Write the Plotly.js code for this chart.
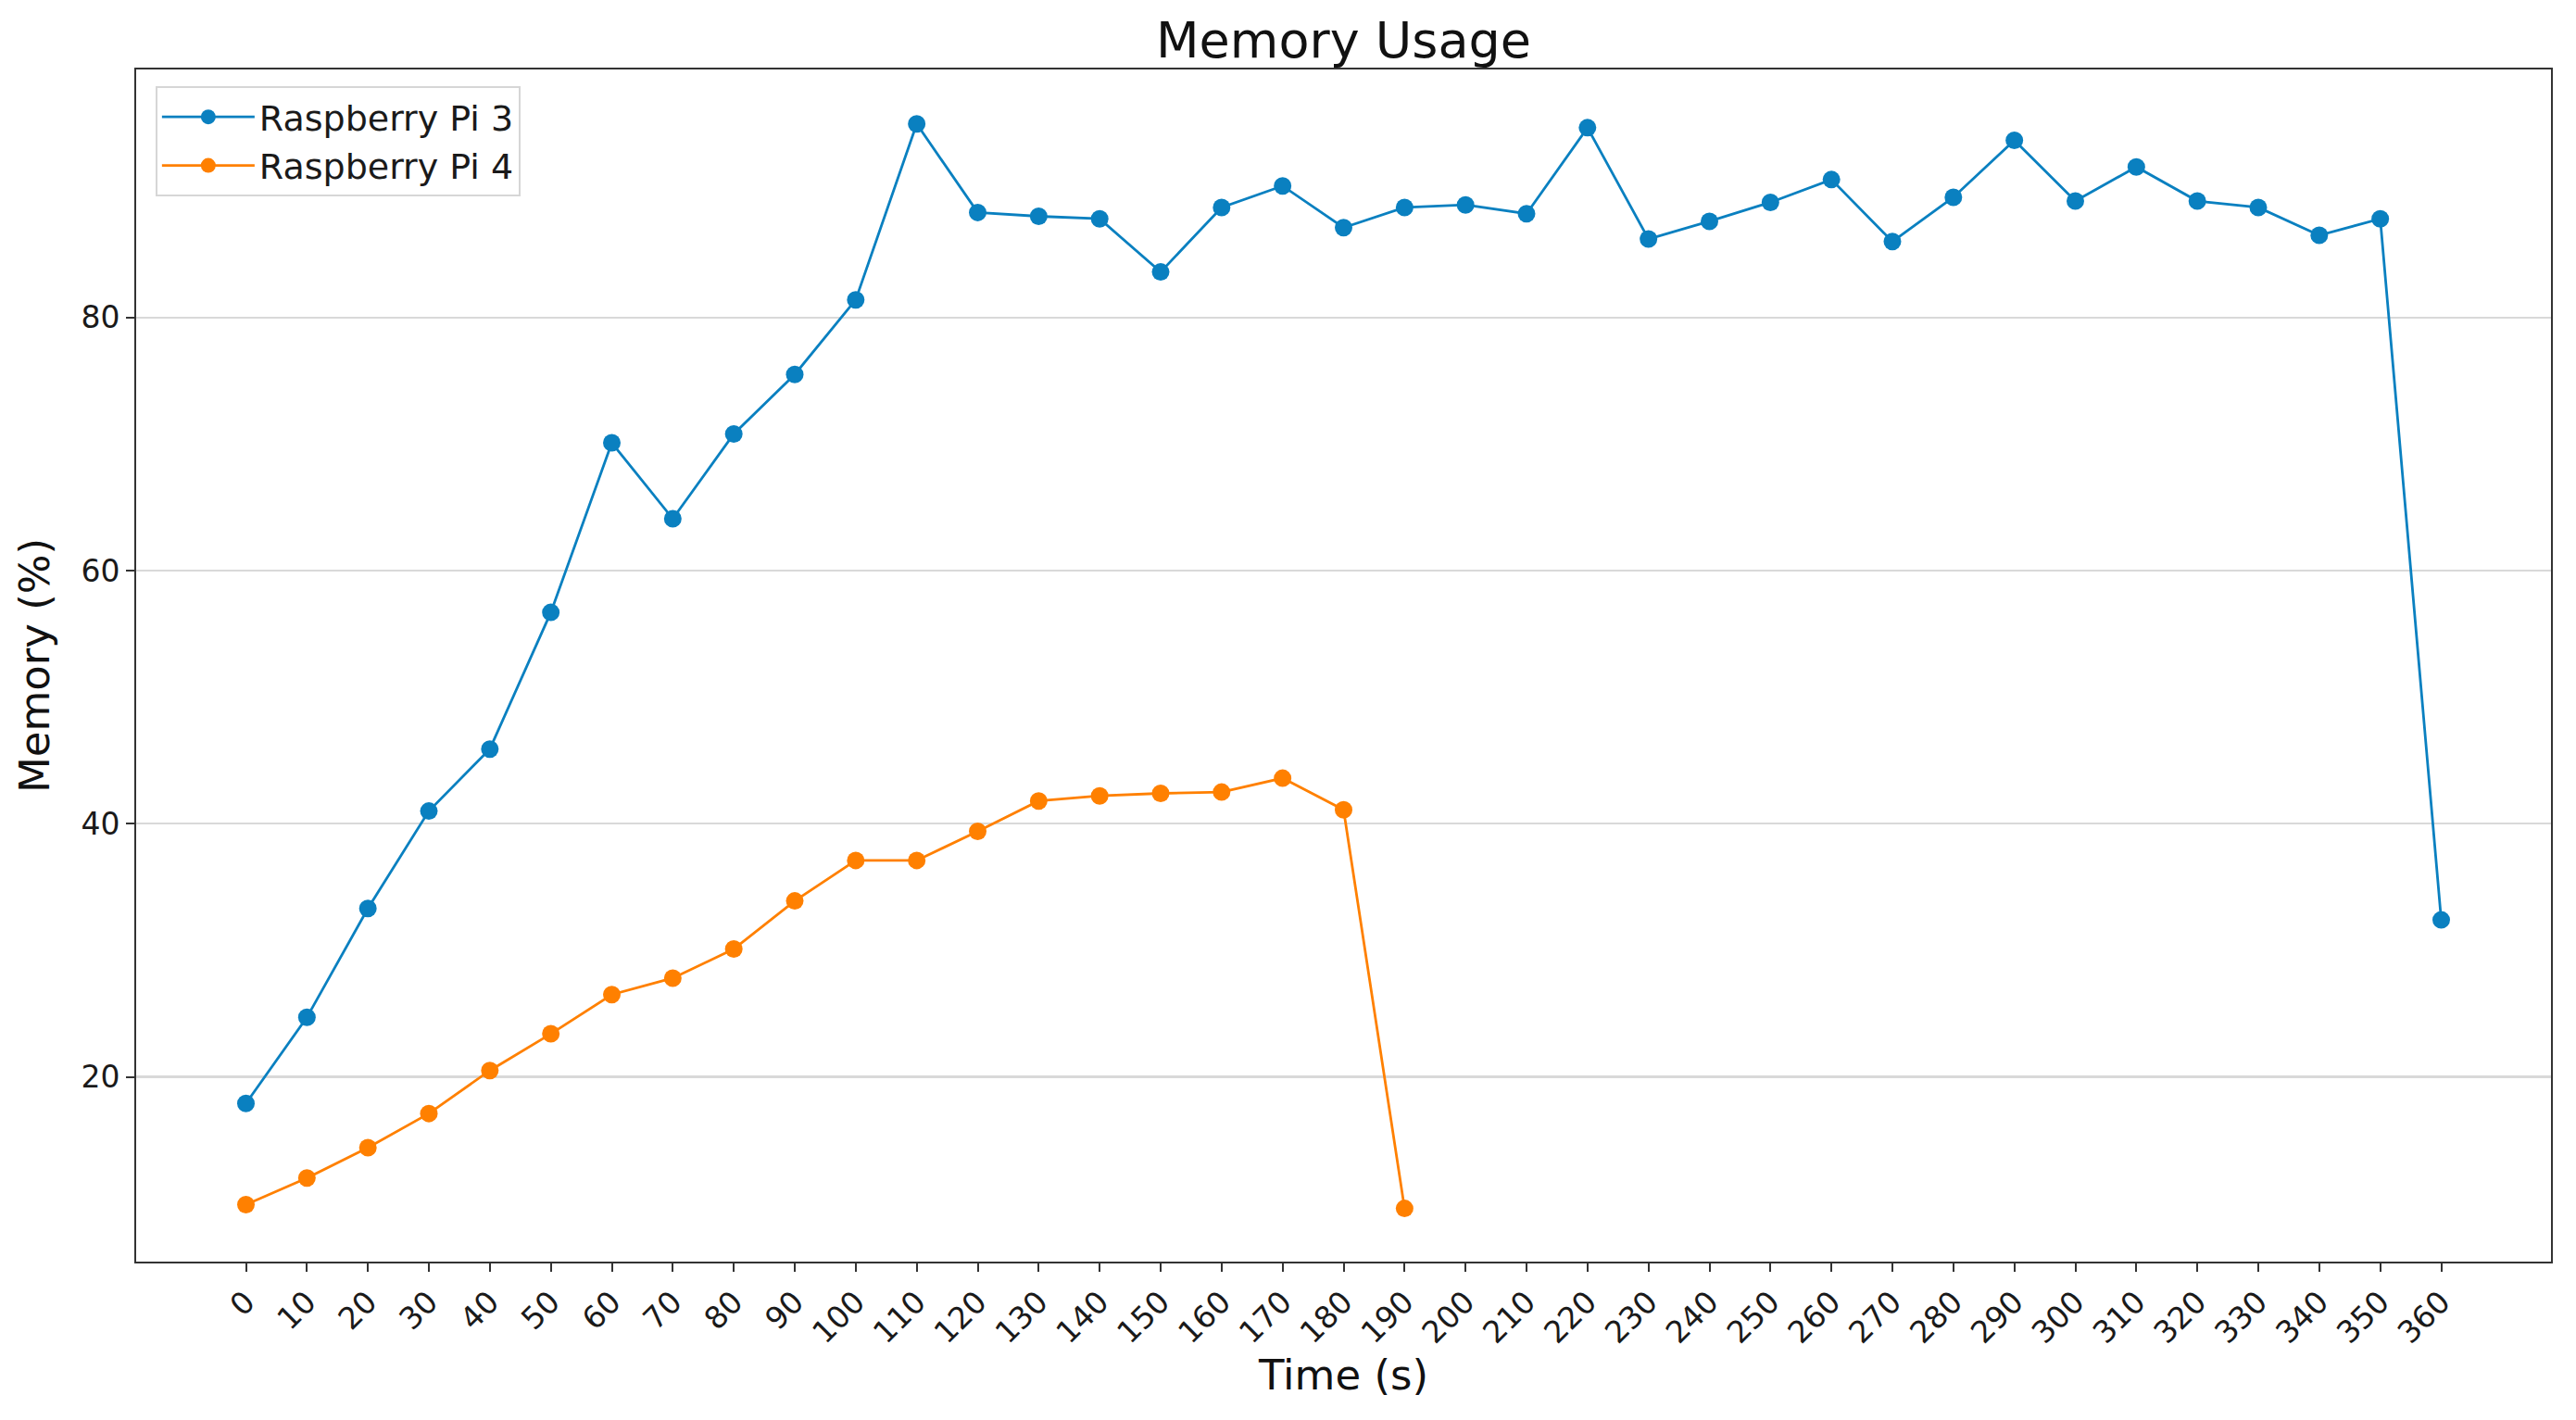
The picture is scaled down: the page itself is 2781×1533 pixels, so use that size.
<!DOCTYPE html>
<html>
<head>
<meta charset="utf-8">
<script src="https://cdn.plot.ly/plotly-3.0.1.min.js"></script>
<style>
html, body { margin: 0; padding: 0; background: #ffffff; }
#chart { width: 2781px; height: 1533px; }
</style>
</head>
<body>
<div id="chart"></div>
<script>
// Time (s)
const timePi3 = [0,10,20,30,40,50,60,70,80,90,100,110,120,130,140,150,160,170,180,190,200,210,220,230,240,250,260,270,280,290,300,310,320,330,340,350,360];
const memPi3 = [17.9,24.7,33.3,41.0,45.9,56.7,70.1,64.1,70.8,75.5,81.4,95.3,88.3,88.0,87.8,83.6,88.7,90.4,87.1,88.7,88.9,88.2,95.0,86.2,87.6,89.1,90.9,86.0,89.5,94.0,89.2,91.9,89.2,88.7,86.5,87.8,32.4];

const timePi4 = [0,10,20,30,40,50,60,70,80,90,100,110,120,130,140,150,160,170,180,190];
const memPi4 = [9.9,12.0,14.4,17.1,20.5,23.4,26.5,27.8,30.1,33.9,37.1,37.1,39.4,41.8,42.2,42.4,42.5,43.6,41.1,9.6];

const seriesNames = ["Raspberry Pi 3", "Raspberry Pi 4"];
const xTicks = [0,10,20,30,40,50,60,70,80,90,100,110,120,130,140,150,160,170,180,190,200,210,220,230,240,250,260,270,280,290,300,310,320,330,340,350,360];
const yTicks = [20,40,60,80];

const blue = "#0a80c0";
const orange = "#ff8000";

const traces = [
  {
    x: timePi3, y: memPi3, name: seriesNames[0], type: "scatter", mode: "lines+markers",
    line: {color: blue, width: 2.8},
    marker: {color: blue, size: 19}
  },
  {
    x: timePi4, y: memPi4, name: seriesNames[1], type: "scatter", mode: "lines+markers",
    line: {color: orange, width: 2.8},
    marker: {color: orange, size: 19}
  }
];

const layout = {
  width: 2781, height: 1533,
  paper_bgcolor: "#ffffff", plot_bgcolor: "#ffffff",
  font: {family: "DejaVu Sans", color: "#1a1a1a", size: 33},
  margin: {l: 147, r: 27, t: 75, b: 171, autoexpand: false},
  title: {
    text: "Memory Usage",
    font: {family: "DejaVu Sans", size: 54, color: "#111111"},
    xref: "paper", x: 0.5, xanchor: "center",
    yref: "container", y: 1 - 43/1533, yanchor: "middle"
  },
  showlegend: true,
  legend: {
    x: 0.008, y: 0.986, xanchor: "left", yanchor: "top",
    bgcolor: "rgba(255,255,255,0.9)", bordercolor: "#d6d6d6", borderwidth: 2,
    font: {family: "DejaVu Sans", size: 38, color: "#1a1a1a"},
    itemwidth: 100,
    tracegroupgap: 0
  },
  xaxis: {
    range: [-18, 378],
    tickmode: "array", tickvals: xTicks, ticktext: xTicks.map(String),
    tickangle: -45,
    ticks: "outside", ticklen: 9, tickwidth: 2, tickcolor: "#333333",
    showgrid: false, zeroline: false,
    showline: true, mirror: true, linecolor: "#333333", linewidth: 2,
    tickfont: {family: "DejaVu Sans", size: 33, color: "#1a1a1a"},
    automargin: false,
    title: {text: "Time (s)", font: {family: "DejaVu Sans", size: 45, color: "#111111"}, standoff: 12}
  },
  yaxis: {
    range: [5.4, 99.6],
    tickmode: "array", tickvals: yTicks, ticktext: yTicks.map(String),
    ticks: "outside", ticklen: 9, tickwidth: 2, tickcolor: "#333333",
    showgrid: true, gridcolor: "#d9d9d9", gridwidth: 2.2,
    zeroline: false,
    showline: true, mirror: true, linecolor: "#333333", linewidth: 2,
    tickfont: {family: "DejaVu Sans", size: 33, color: "#1a1a1a"},
    automargin: false,
    title: {text: "Memory (%)", font: {family: "DejaVu Sans", size: 45, color: "#111111"}, standoff: 20}
  }
};

Plotly.newPlot("chart", traces, layout, {displayModeBar: false, staticPlot: true});
</script>
</body>
</html>
